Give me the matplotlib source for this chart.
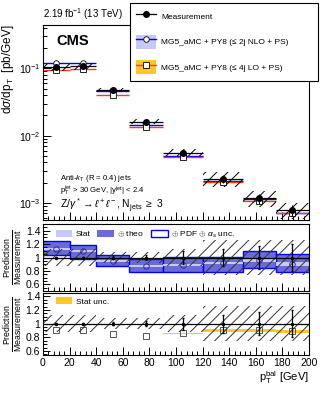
import numpy as np
import matplotlib
matplotlib.use('Agg')
import matplotlib.pyplot as plt
from matplotlib.patches import Patch
from matplotlib.lines import Line2D
from matplotlib.ticker import MultipleLocator, LogLocator, NullFormatter

plt.rcParams['font.family'] = ['Liberation Sans', 'DejaVu Sans']
plt.rcParams['mathtext.fontset'] = 'custom'
plt.rcParams['mathtext.rm'] = 'Liberation Sans'
plt.rcParams['mathtext.it'] = 'Liberation Sans:italic'
plt.rcParams['hatch.linewidth'] = 0.7

# bins in pT(bal)
edges = np.array([0, 20, 40, 65, 90, 120, 150, 175, 200])
centers = np.array([10, 30, 52.5, 77.5, 105, 135, 162.5, 187.5])

# measured cross section [pb/GeV]
meas = np.array([0.105, 0.108, 0.048, 0.0162, 0.0056, 0.0023, 0.00118, 0.00079])
meas_stat = np.array([0.01, 0.01, 0.02, 0.04, 0.09, 0.13, 0.17, 0.20])   # relative
meas_tot = np.array([0.12, 0.12, 0.08, 0.08, 0.12, 0.26, 0.26, 0.26])    # relative

# MG5_aMC NLO / measurement
nlo_ratio = np.array([1.13, 1.10, 0.95, 0.88, 0.89, 0.92, 0.97, 0.91])
nlo_lo = np.array([1.04, 0.98, 0.87, 0.79, 0.79, 0.79, 0.84, 0.78])
nlo_hi = np.array([1.25, 1.19, 1.03, 0.98, 1.01, 1.01, 1.10, 1.05])
nlo_stat = np.array([0.015, 0.015, 0.015, 0.015, 0.02, 0.02, 0.03, 0.03])

# MG5_aMC LO / measurement
lo_ratio = np.array([0.91, 0.91, 0.85, 0.82, 0.86, 0.90, 0.90, 0.89])
lo_stat = np.array([0.004, 0.004, 0.004, 0.004, 0.005, 0.02, 0.02, 0.02])

c_stat = '#c8c8f5'
c_theo = '#6b6bd6'
c_blue = '#0000ff'
c_gold = '#ffc629'
c_red = '#ff3b1a'

W, H = 332, 393
fig = plt.figure(figsize=(W / 100, H / 100), dpi=100)
L, R = 43, 309
ax0 = fig.add_axes([L / W, 1 - 220 / H, (R - L) / W, 195 / H])
ax1 = fig.add_axes([L / W, 1 - 291 / H, (R - L) / W, 67 / H])
ax2 = fig.add_axes([L / W, 1 - 355 / H, (R - L) / W, 62 / H])

lo_edges = edges[:-1]
widths = np.diff(edges)

# ---- main panel
nlo_pred = meas * nlo_ratio
lo_pred = meas * lo_ratio
ax0.bar(lo_edges, meas * 2 * meas_tot, bottom=meas * (1 - meas_tot), width=widths,
        align='edge', fill=False, hatch='///', edgecolor='k', linewidth=0, zorder=3)
ax0.hlines(nlo_pred, lo_edges, edges[1:], color=c_blue, lw=1.0, zorder=2)
ax0.hlines(lo_pred, lo_edges, edges[1:], color=c_red, lw=1.0, zorder=2)
ax0.hlines(meas, lo_edges, edges[1:], color='k', lw=0.9, zorder=4)
ax0.plot(centers, nlo_pred, 'o', ms=4, mfc='white', mec='k', mew=0.6, zorder=5)
ax0.plot(centers, lo_pred, 's', ms=4, mfc='white', mec='k', mew=0.6, zorder=5)
ax0.errorbar(centers, meas, yerr=meas * meas_stat, fmt='o', color='k', ms=4,
             elinewidth=0.8, capsize=0, zorder=6)
ax0.set_yscale('log')
ax0.set_ylim(5.6e-4, 0.44)
ax0.set_xlim(0, 200)
ax0.yaxis.set_major_locator(LogLocator(base=10))
ax0.yaxis.set_minor_locator(LogLocator(base=10, subs=np.arange(2, 10)))
ax0.yaxis.set_minor_formatter(NullFormatter())
ax0.set_xticklabels([])
ax0.set_ylabel(r'd$\sigma$/dp$_{\rm T}$  [pb/GeV]', fontsize=8.5, loc='top', labelpad=2)

ax0.text(0.0, 1.015, '2.19 fb$^{-1}$ (13 TeV)', transform=ax0.transAxes,
         fontsize=7, ha='left', va='bottom')
ax0.text(0.05, 0.92, 'CMS', transform=ax0.transAxes, fontsize=10.5,
         fontweight='bold', ha='left', va='center')
ax0.text(0.065, 0.215, r'Anti-$k_{\rm T}$ (R = 0.4) jets', transform=ax0.transAxes,
         fontsize=5.6, ha='left', va='center')
ax0.text(0.065, 0.148, r'p$_{\rm T}^{\rm jet}$ > 30 GeV, |y$^{\rm jet}$| < 2.4',
         transform=ax0.transAxes, fontsize=5.6, ha='left', va='center')
ax0.text(0.065, 0.072, r'Z/$\gamma^*\rightarrow\ell^+\ell^-$, N$_{\rm jets}$ $\geq$ 3',
         transform=ax0.transAxes, fontsize=7.5, ha='left', va='center')

h_meas = (Patch(facecolor='white', edgecolor='none', hatch='///'),
          Line2D([], [], color='k', lw=0.9, marker='o', ms=4))
h_nlo = (Patch(facecolor=c_stat, edgecolor='none'),
         Line2D([], [], color=c_blue, lw=1.0, marker='o', ms=4, mfc='white', mec='k', mew=0.6))
h_lo = (Patch(facecolor=c_gold, edgecolor='none'),
        Line2D([], [], color=c_red, lw=1.0, marker='s', ms=4, mfc='white', mec='k', mew=0.6))
leg = fig.legend([h_meas, h_nlo, h_lo],
                 ['Measurement', u'MG5_aMC + PY8 (\u2264 2j NLO + PS)',
                  u'MG5_aMC + PY8 (\u2264 4j LO + PS)'],
                 loc='upper left', bbox_to_anchor=(130 / W, 1 - 3 / H, 188 / W, 0),
                 mode='expand', fontsize=6, frameon=True, fancybox=False,
                 edgecolor='k', framealpha=1, handlelength=2.4, handleheight=2.3,
                 labelspacing=1.3, borderpad=0.75, borderaxespad=0,
                 handletextpad=0.6)
leg.get_frame().set_linewidth(0.8)

# ---- ratio panel NLO
for i in range(len(centers)):
    ax1.bar(lo_edges[i], nlo_hi[i] - nlo_lo[i], bottom=nlo_lo[i], width=widths[i],
            align='edge', facecolor=c_theo, edgecolor=c_blue, linewidth=1.0, zorder=1)
ax1.bar(lo_edges, 2 * nlo_stat, bottom=nlo_ratio - nlo_stat, width=widths, align='edge',
        facecolor=c_stat, edgecolor='none', zorder=2)
ax1.plot(centers, nlo_ratio, 'o', ms=4, mfc='none', mec='#3030a0', mew=0.7, zorder=3)

# ---- ratio panel LO
ax2.bar(lo_edges, 2 * lo_stat, bottom=lo_ratio - lo_stat, width=widths, align='edge',
        facecolor=c_gold, edgecolor='none', zorder=1)
ax2.plot(centers, lo_ratio, 's', ms=4, mfc='none', mec='#555555', mew=0.7, zorder=3)

for ax in (ax1, ax2):
    ax.bar(lo_edges, 2 * meas_tot, bottom=1 - meas_tot, width=widths, align='edge',
           fill=False, hatch='///', edgecolor='#333333', linewidth=0, zorder=4)
    ax.axhline(1, color='k', lw=0.9, zorder=5)
    ax.errorbar(centers, np.ones(len(centers)), yerr=meas_stat, fmt='o', color='k',
                ms=1.5, elinewidth=0.9, capsize=1, zorder=6)
    ax.set_xlim(0, 200)
    ax.yaxis.set_major_locator(MultipleLocator(0.2))
    ax.yaxis.set_minor_locator(MultipleLocator(0.05))
    ax.set_ylabel(r'$\frac{\mathrm{Prediction}}{\mathrm{Measurement}}$', fontsize=9,
                  labelpad=1)
    ax.set_yticks([0.6, 0.8, 1.0, 1.2, 1.4])
    ax.set_yticklabels(['0.6', '0.8', '1', '1.2', '1.4'])

ax1.set_ylim(0.5, 1.5)
ax2.set_ylim(0.54, 1.45)
ax1.set_xticklabels([])

ax1.legend([Patch(facecolor=c_stat), Patch(facecolor=c_theo),
            Patch(facecolor='white', edgecolor=c_blue, linewidth=1.0)],
           ['Stat', r'$\oplus$ theo', r'$\oplus$ PDF $\oplus$ $\alpha_{\rm s}$ unc.'],
           ncol=3, loc='upper left', bbox_to_anchor=(0.02, 1.03), frameon=False,
           fontsize=6, handlelength=2.0, handleheight=0.9, columnspacing=0.8,
           handletextpad=0.4)
ax2.legend([Patch(facecolor=c_gold)], ['Stat unc.'], loc='upper left',
           bbox_to_anchor=(0.02, 1.05), frameon=False, fontsize=6,
           handlelength=2.0, handleheight=0.9, handletextpad=0.4)

ax2.xaxis.set_major_locator(MultipleLocator(20))
ax2.set_xlabel(r'p$_{\rm T}^{\rm bal}$ [GeV]', fontsize=8, loc='right', labelpad=1)

for ax in (ax0, ax1, ax2):
    ax.xaxis.set_major_locator(MultipleLocator(20))
    ax.xaxis.set_minor_locator(MultipleLocator(4))
    ax.tick_params(which='both', direction='in', labelsize=7.5, width=0.7, pad=2)
    ax.tick_params(which='major', length=6)
    ax.tick_params(which='minor', length=3)
    for s in ax.spines.values():
        s.set_linewidth(0.8)
ax1.tick_params(which='major', axis='y', length=5)
ax2.tick_params(which='major', axis='y', length=5)

fig.savefig('out.png', dpi=100)
